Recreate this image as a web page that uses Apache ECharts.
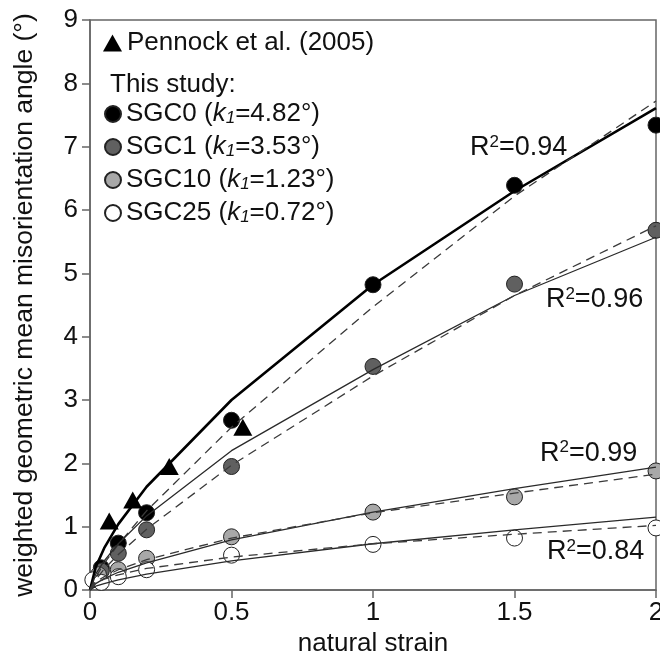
<!DOCTYPE html>
<html>
<head>
<meta charset="utf-8">
<title>Misorientation angle vs natural strain</title>
<script src="https://cdn.jsdelivr.net/npm/echarts@6/dist/echarts.min.js"></script>
<style>
  html, body { margin: 0; padding: 0; background: #fff; }
  #chart { width: 660px; height: 651px; }
</style>
</head>
<body>
<div id="chart"></div>
<script>
// Axis tick labels
const xTickLabels = ['0', '0.5', '1', '1.5', '2'];
const yTickLabels = ['0', '1', '2', '3', '4', '5', '6', '7', '8', '9'];

// Measured samples: natural strain and weighted geometric mean misorientation angle
const groups = ['SGC0', 'SGC1', 'SGC10', 'SGC25'];
const k1Values = ['4.82', '3.53', '1.23', '0.72'];

const sgc0Strain = [0.04, 0.1, 0.2, 0.5, 1, 1.5, 2];
const sgc0Angle  = [0.35, 0.74, 1.22, 2.68, 4.82, 6.39, 7.34];

const sgc1Strain = [0.04, 0.1, 0.2, 0.5, 1, 1.5, 2];
const sgc1Angle  = [0.30, 0.58, 0.95, 1.95, 3.53, 4.83, 5.68];

const sgc10Strain = [0.03, 0.1, 0.2, 0.5, 1, 1.5, 2];
const sgc10Angle  = [0.24, 0.32, 0.50, 0.84, 1.23, 1.47, 1.88];

const sgc25Strain = [0.01, 0.04, 0.1, 0.2, 0.5, 1, 1.5, 2];
const sgc25Angle  = [0.16, 0.12, 0.21, 0.32, 0.55, 0.72, 0.82, 0.98];

// Pennock et al. (2005)
const pennockStrain = [0.068, 0.151, 0.28, 0.54];
const pennockAngle  = [1.09, 1.42, 1.95, 2.57];

// Fitted curves, sampled along strain
const fitStrain = [0, 0.02, 0.05, 0.1, 0.2, 0.5, 1, 1.5, 2];
const sgc0Solid  = [0, 0.36, 0.66, 1.04, 1.63, 3.00, 4.82, 6.30, 7.61];
const sgc0Dash   = [0, 0.20, 0.42, 0.72, 1.25, 2.57, 4.47, 6.22, 7.72];
const sgc1Solid  = [0, 0.25, 0.46, 0.73, 1.17, 2.20, 3.48, 4.65, 5.57];
const sgc1Dash   = [0, 0.16, 0.33, 0.56, 0.96, 1.97, 3.38, 4.65, 5.75];
const sgc10Solid = [0, 0.10, 0.18, 0.28, 0.43, 0.79, 1.23, 1.60, 1.94];
const sgc10Dash  = [0, 0.13, 0.21, 0.32, 0.48, 0.82, 1.22, 1.53, 1.83];
const sgc25Solid = [0, 0.06, 0.10, 0.16, 0.25, 0.46, 0.73, 0.95, 1.15];
const sgc25Dash  = [0, 0.11, 0.17, 0.24, 0.34, 0.52, 0.73, 0.88, 1.02];

// Goodness of fit labels: value and anchor (strain, angle)
const r2Values  = ['0.94', '0.96', '0.99', '0.84'];
const r2Anchors = [[1.343, 6.98], [1.611, 4.58], [1.59, 2.16], [1.615, 0.60]];

const FONT = '"Liberation Sans", Arial, Helvetica, sans-serif';
const AXIS_GREY = '#666';
const TEXT = '#111';

function pairs(xs, ys) { return xs.map((x, i) => [x, ys[i]]); }

function pointSeries(name, xs, ys, fill) {
  return {
    name: name, type: 'scatter', data: pairs(xs, ys),
    symbol: 'circle', symbolSize: 16, z: 2,
    itemStyle: { color: fill, borderColor: '#222', borderWidth: 1, opacity: 1 }
  };
}

function fitSeries(ys, dashed, width, color) {
  return {
    type: 'line', data: pairs(fitStrain, ys), showSymbol: false, symbol: 'none',
    silent: true, z: 5, smooth: false,
    lineStyle: { color: color, width: width, type: dashed ? [9, 6] : 'solid' }
  };
}

const chart = echarts.init(document.getElementById('chart'), null, { renderer: 'canvas' });

const richLegend = {
  k: { fontFamily: FONT, fontSize: 26, fontStyle: 'italic', color: TEXT },
  s: { fontFamily: FONT, fontSize: 17, fontStyle: 'italic', color: TEXT, lineHeight: 10, verticalAlign: 'bottom' }
};

const option = {
  animation: false,
  backgroundColor: '#fff',
  textStyle: { fontFamily: FONT },
  grid: {
    left: 90, right: 4, top: 20, bottom: 61,
    outerBoundsMode: 'none', containLabel: false,
    show: true, borderColor: AXIS_GREY, borderWidth: 1.5, backgroundColor: 'transparent'
  },
  xAxis: {
    type: 'value', min: 0, max: 2, interval: 0.5,
    axisLine: { show: true, onZero: false, lineStyle: { color: AXIS_GREY, width: 1.5 } },
    axisTick: { show: true, inside: false, length: 8, lineStyle: { color: AXIS_GREY, width: 1.5 } },
    splitLine: { show: false },
    axisLabel: {
      fontSize: 26, color: TEXT, margin: 10, fontFamily: FONT,
      formatter: v => xTickLabels[Math.round(v / 0.5)]
    },
    name: 'natural strain', nameLocation: 'middle', nameGap: 30,
    nameTextStyle: { fontSize: 26, color: TEXT, fontFamily: FONT }
  },
  yAxis: {
    type: 'value', min: 0, max: 9, interval: 1,
    axisLine: { show: true, onZero: false, lineStyle: { color: AXIS_GREY, width: 1.5 } },
    axisTick: { show: true, inside: false, length: 8, lineStyle: { color: AXIS_GREY, width: 1.5 } },
    splitLine: { show: false },
    axisLabel: {
      fontSize: 26, color: TEXT, margin: 12, fontFamily: FONT,
      formatter: v => yTickLabels[Math.round(v)]
    },
    name: 'weighted geometric mean misorientation angle (°)',
    nameLocation: 'middle', nameGap: 52,
    nameTextStyle: { fontSize: 26.5, color: TEXT, fontFamily: FONT }
  },
  legend: [
    {
      data: ['Pennock et al. (2005)'],
      left: 103, top: 30, itemWidth: 19, itemHeight: 17, padding: 0,
      icon: 'triangle',
      textStyle: { fontSize: 26, lineHeight: 26, color: TEXT, fontFamily: FONT }
    },
    {
      data: groups, orient: 'vertical',
      left: 104, top: 101, itemWidth: 16, itemHeight: 16, itemGap: 7, padding: 0,
      icon: 'circle',
      formatter: name => {
        const i = groups.indexOf(name);
        return name + ' ({k|k}{s|1}=' + k1Values[i] + '°)';
      },
      textStyle: { fontSize: 26, lineHeight: 26, color: TEXT, fontFamily: FONT, rich: richLegend }
    }
  ],
  series: [
    pointSeries('SGC0', sgc0Strain, sgc0Angle, '#000000'),
    pointSeries('SGC1', sgc1Strain, sgc1Angle, '#606060'),
    pointSeries('SGC10', sgc10Strain, sgc10Angle, '#a8a8a8'),
    pointSeries('SGC25', sgc25Strain, sgc25Angle, '#ffffff'),
    {
      name: 'Pennock et al. (2005)', type: 'scatter', data: pairs(pennockStrain, pennockAngle),
      symbol: 'triangle', symbolSize: [19, 17], z: 3,
      itemStyle: { color: '#000000', opacity: 1 }
    },
    fitSeries(sgc0Solid, false, 2.6, '#000000'),
    fitSeries(sgc0Dash, true, 1.3, '#3a3a3a'),
    fitSeries(sgc1Solid, false, 1.3, '#2a2a2a'),
    fitSeries(sgc1Dash, true, 1.3, '#3a3a3a'),
    fitSeries(sgc10Solid, false, 1.3, '#2a2a2a'),
    fitSeries(sgc10Dash, true, 1.3, '#3a3a3a'),
    fitSeries(sgc25Solid, false, 1.3, '#2a2a2a'),
    fitSeries(sgc25Dash, true, 1.3, '#3a3a3a')
  ]
};

chart.setOption(option);

// Annotations placed in data coordinates
const graphics = [{
  type: 'text', left: 110, top: 72, z: 10,
  style: { text: 'This study:', font: '26px ' + FONT, fill: TEXT }
}];
r2Values.forEach((v, i) => {
  const p = chart.convertToPixel({ gridIndex: 0 }, r2Anchors[i]);
  graphics.push({
    type: 'text', x: p[0], y: p[1], z: 10,
    style: {
      text: '{r|R}{sup|2}{r|=' + v + '}',
      verticalAlign: 'middle', align: 'left',
      rich: {
        r: { fontFamily: FONT, fontSize: 27, fill: TEXT, lineHeight: 28 },
        sup: { fontFamily: FONT, fontSize: 17, fill: TEXT, lineHeight: 17, verticalAlign: 'top' }
      }
    }
  });
});
chart.setOption({ graphic: graphics });
</script>
</body>
</html>
